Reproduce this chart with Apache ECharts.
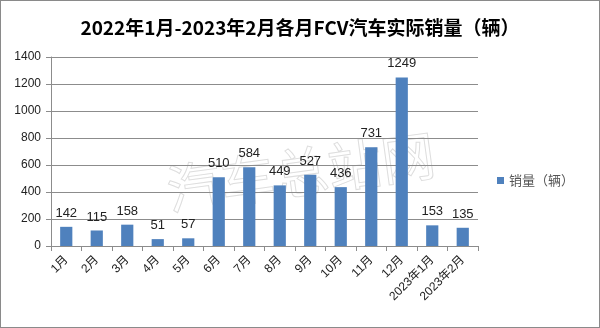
<!DOCTYPE html>
<html>
<head>
<meta charset="utf-8">
<script src="https://cdn.jsdelivr.net/npm/echarts@6/dist/echarts.min.js"></script>
<style>
  html, body { margin: 0; padding: 0; background: #fff; }
  #chart { width: 600px; height: 328px; box-sizing: border-box; border: 1px solid #8a8a8a; }
</style>
</head>
<body>
<div id="chart"></div>
<script>
// Monthly FCV sales, Jan 2022 – Feb 2023
const categories = ['1月', '2月', '3月', '4月', '5月', '6月', '7月', '8月', '9月', '10月', '11月', '12月', '2023年1月', '2023年2月'];
const sales = [142, 115, 158, 51, 57, 510, 584, 449, 527, 436, 731, 1249, 153, 135];
const yTicks = { min: 0, max: 1400, interval: 200 };

const FONT = "'Liberation Sans', 'Noto Sans CJK SC', sans-serif";
const CJK = "'Noto Sans CJK SC', sans-serif";

const chart = echarts.init(document.getElementById('chart'), null, { renderer: 'canvas' });
chart.setOption({
  animation: false,
  backgroundColor: '#fff',
  title: {
    text: '2022年1月-2023年2月各月FCV汽车实际销量（辆）',
    left: 'center',
    top: 12,
    textStyle: { fontFamily: CJK, fontSize: 19, fontWeight: 'bold', color: '#000' }
  },
  // faint outlined site mark behind the bars
  graphic: [{
    type: 'text',
    x: 300,
    y: 171,
    rotation: 0.135,
    silent: true,
    z: 0,
    style: {
      text: '汽车总站网',
      fontFamily: CJK,
      fontSize: 54,
      textAlign: 'center',
      textVerticalAlign: 'middle',
      fill: 'rgba(0,0,0,0)',
      stroke: '#dedede',
      lineWidth: 1
    }
  }],
  legend: {
    data: ['销量（辆）'],
    right: 20,
    top: 168,
    orient: 'vertical',
    icon: 'rect',
    itemWidth: 7,
    itemHeight: 7,
    itemGap: 4,
    textStyle: { fontFamily: CJK, fontSize: 13, color: '#555' }
  },
  grid: { left: 50, right: 121, top: 56, bottom: 81, containLabel: false },
  xAxis: {
    type: 'category',
    data: categories,
    axisLine: { lineStyle: { color: '#8c8c8c' } },
    axisTick: { show: true, alignWithLabel: false, length: 5, lineStyle: { color: '#8c8c8c' } },
    axisLabel: { rotate: 45, interval: 0, margin: 12, fontFamily: FONT, fontSize: 12, color: '#222' }
  },
  yAxis: {
    type: 'value',
    min: yTicks.min,
    max: yTicks.max,
    interval: yTicks.interval,
    axisLine: { show: true, lineStyle: { color: '#8c8c8c' } },
    axisTick: { show: true, length: 5, lineStyle: { color: '#8c8c8c' } },
    axisLabel: { margin: 10, fontFamily: FONT, fontSize: 12, color: '#222', formatter: v => String(v) },
    splitLine: { lineStyle: { color: '#8c8c8c', width: 1 } }
  },
  series: [{
    name: '销量（辆）',
    type: 'bar',
    data: sales,
    barWidth: '40%',
    itemStyle: { color: '#4f81bd' },
    label: {
      show: true,
      position: 'top',
      distance: 7,
      fontFamily: FONT,
      fontSize: 13,
      color: '#222'
    }
  }]
});
</script>
</body>
</html>
